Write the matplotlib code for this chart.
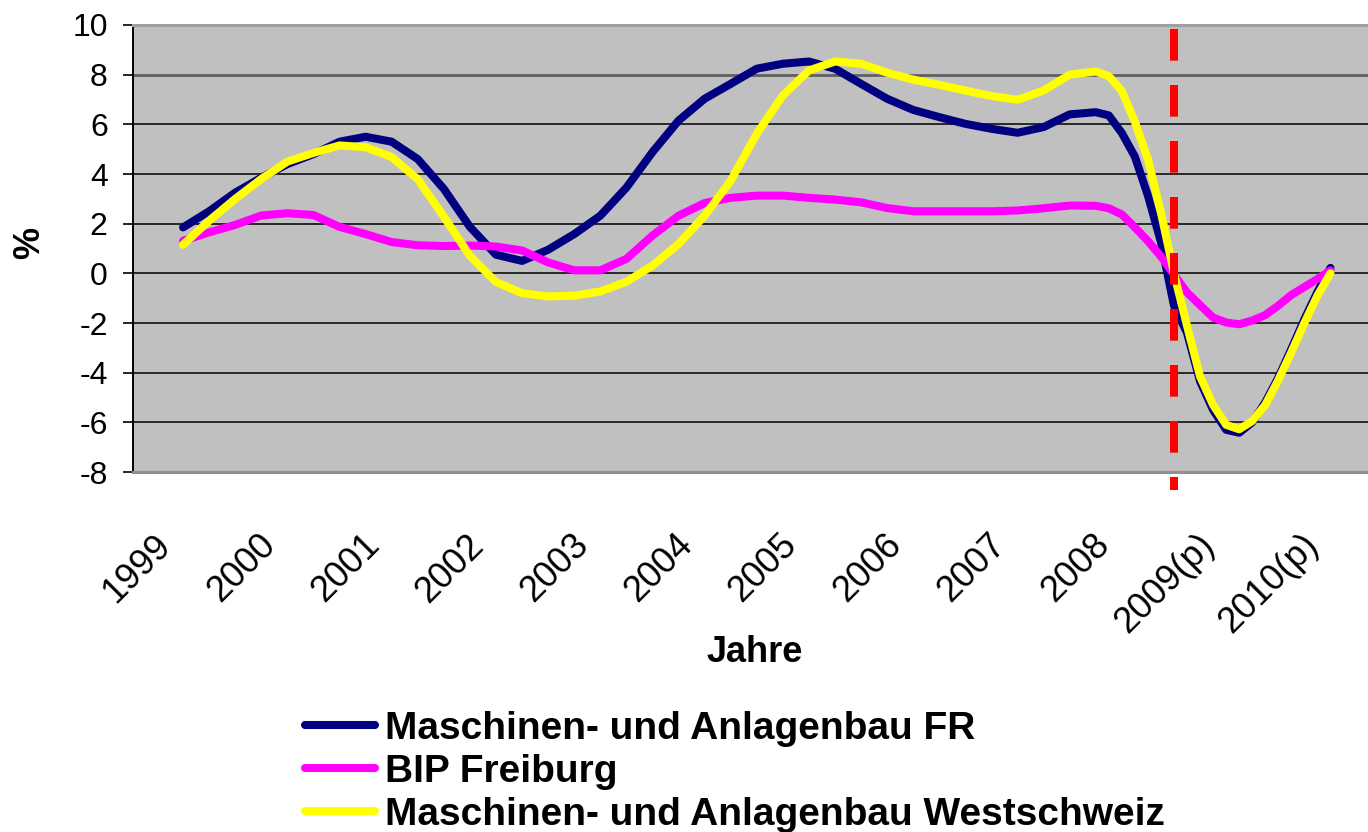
import matplotlib
matplotlib.use("Agg")
import matplotlib.pyplot as plt
import matplotlib.transforms as mtransforms

plt.rcParams['font.family'] = ['Liberation Sans', 'DejaVu Sans']

# time positions (fractional years): quarterly up to 2007.75, then eighths
t = [1999.0, 1999.25, 1999.5, 1999.75, 2000.0, 2000.25, 2000.5, 2000.75,
     2001.0, 2001.25, 2001.5, 2001.75, 2002.0, 2002.25, 2002.5, 2002.75,
     2003.0, 2003.25, 2003.5, 2003.75, 2004.0, 2004.25, 2004.5, 2004.75,
     2005.0, 2005.25, 2005.5, 2005.75, 2006.0, 2006.25, 2006.5, 2006.75,
     2007.0, 2007.25, 2007.5, 2007.75,
     2007.875, 2008.0, 2008.125, 2008.25, 2008.375, 2008.5, 2008.625, 2008.75,
     2008.875, 2009.0, 2009.125, 2009.25, 2009.375, 2009.5, 2009.625, 2009.75,
     2009.875, 2010.0]

maschinen_fr = [1.85, 2.5, 3.25, 3.85, 4.4, 4.8, 5.3, 5.5, 5.3, 4.6, 3.4, 1.87,
                0.75, 0.5, 0.95, 1.58, 2.32, 3.45, 4.88, 6.15, 7.03, 7.63, 8.24, 8.44,
                8.53, 8.24, 7.63, 7.03, 6.58, 6.29, 6.02, 5.82, 5.66, 5.89, 6.4, 6.49,
                6.36, 5.65, 4.7, 3.13, 1.26, -1.3, -2.4, -4.35, -5.5, -6.3, -6.42, -6.0,
                -5.2, -4.2, -3.05, -1.85, -0.75, 0.22]

bip_freiburg = [1.31, 1.65, 1.95, 2.33, 2.42, 2.35, 1.87, 1.58, 1.26, 1.13, 1.1, 1.12,
                1.08, 0.92, 0.44, 0.12, 0.12, 0.58, 1.52, 2.32, 2.83, 3.04, 3.13, 3.13,
                3.04, 2.97, 2.86, 2.63, 2.5, 2.5, 2.5, 2.5, 2.53, 2.62, 2.73, 2.72,
                2.62, 2.37, 1.85, 1.3, 0.68, -0.05, -0.77, -1.28, -1.78, -1.98, -2.05, -1.9,
                -1.68, -1.3, -0.87, -0.55, -0.23, 0.12]

maschinen_ws = [1.15, 2.12, 3.0, 3.8, 4.5, 4.85, 5.15, 5.08, 4.68, 3.79, 2.28, 0.7,
                -0.35, -0.8, -0.93, -0.9, -0.73, -0.34, 0.31, 1.18, 2.32, 3.73, 5.62, 7.16,
                8.17, 8.53, 8.44, 8.08, 7.8, 7.59, 7.36, 7.14, 6.99, 7.36, 8.0, 8.13,
                7.94, 7.35, 6.1, 4.6, 2.45, 0.0, -2.11, -4.15, -5.3, -6.1, -6.28, -5.95,
                -5.3, -4.3, -3.18, -2.0, -0.9, 0.0]

year_ticks = [1999, 2000, 2001, 2002, 2003, 2004, 2005, 2006, 2007, 2008, 2009, 2010]
year_labels = ['1999', '2000', '2001', '2002', '2003', '2004', '2005', '2006',
               '2007', '2008', '2009(p)', '2010(p)']
y_ticks = [-8, -6, -4, -2, 0, 2, 4, 6, 8, 10]

series_names = ['Maschinen- und Anlagenbau FR', 'BIP Freiburg',
                'Maschinen- und Anlagenbau Westschweiz']
series_colors = ['#000080', '#FF00FF', '#FFFF00']

crisis_x = 2008.5

W, H = 1368, 832
fig = plt.figure(figsize=(W / 100, H / 100), dpi=100)
ax = fig.add_axes([133 / W, 1 - 472 / H, (W - 133) / W, (472 - 25) / H])
ax.set_facecolor('#C0C0C0')

lw = 5.8
handles = []
for vals, name, col in zip([maschinen_fr, bip_freiburg, maschinen_ws], series_names, series_colors):
    h, = ax.plot(t, vals, color=col, lw=lw, solid_capstyle='round',
                 solid_joinstyle='round', label=name, zorder=3)
    handles.append(h)

ax.plot([crisis_x, crisis_x], [9.82, -8.74], color='#FF0000', lw=5.76,
        dashes=(3.96, 3.04), dash_capstyle='butt', clip_on=False, zorder=5)

ax.set_xlim(1998.52, 2010.36)
ax.set_ylim(-8, 10)
ax.set_yticks(y_ticks)
ax.set_yticklabels([str(v) for v in y_ticks], fontsize=23)
ax.set_xticks(year_ticks)
ax.set_xticklabels(year_labels, fontsize=26, rotation=45, ha='right', va='top')
ax.tick_params(axis='x', length=0, pad=40)
ax.tick_params(axis='y', length=7.2, width=1.2, pad=11, direction='out')

offset = mtransforms.ScaledTranslation(-5 / 100, 0, fig.dpi_scale_trans)
for lab in ax.get_xticklabels():
    lab.set_transform(lab.get_transform() + offset)

for v in y_ticks[1:-1]:
    if v == 8:
        ax.axhline(v, color='#606060', lw=2.0, zorder=1)
    else:
        ax.axhline(v, color='black', lw=1.1, zorder=1)

ax.spines['right'].set_visible(False)
ax.spines['top'].set_color('#A0A0A0')
ax.spines['top'].set_linewidth(2.2)
ax.spines['bottom'].set_color('#909090')
ax.spines['bottom'].set_linewidth(2.2)
ax.spines['left'].set_color('black')
ax.spines['left'].set_linewidth(1.4)

fig.text(755 / W, 1 - 652 / H, 'Jahre', fontsize=26, fontweight='bold',
         ha='center', va='center')
fig.text(30 / W, 1 - 243 / H, '%', fontsize=26, fontweight='bold',
         ha='center', va='center', rotation=90)

fig.legend(handles=handles, labels=series_names, loc='upper left',
           bbox_to_anchor=(305 / W, 1 - 711 / H), frameon=False,
           prop={'weight': 'bold', 'size': 28},
           handlelength=1.8, handletextpad=0.26, labelspacing=0.18,
           borderpad=0, borderaxespad=0)

fig.savefig('out.png', dpi=100)
